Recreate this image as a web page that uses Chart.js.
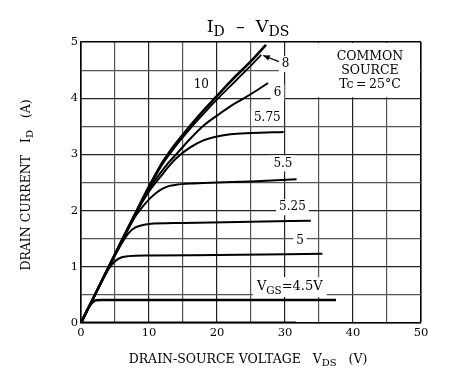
<!DOCTYPE html>
<html>
<head>
<meta charset="utf-8">
<script src="https://cdn.jsdelivr.net/npm/chart.js@4"></script>
<style>
  html, body { margin: 0; padding: 0; background: #fff; }
  #wrap { width: 452px; height: 386px; }
</style>
</head>
<body>
<div id="wrap"><canvas id="chart" width="452" height="386"></canvas></div>
<script>
// curves: VDS (V) and ID (A) per VGS
const v10 = [0, 2, 4, 6, 8, 10, 11, 12, 13, 14, 16, 18, 20, 22, 25, 27.2];
const i10 = [0, 0.49, 0.98, 1.47, 1.95, 2.43, 2.65, 2.86, 3.04, 3.2, 3.5, 3.78, 4.04, 4.3, 4.66, 4.95];
const v8 = [0, 2, 4, 6, 8, 10, 11, 12, 13, 14, 16, 18, 20, 22, 24.5, 26.5];
const i8 = [0, 0.49, 0.98, 1.47, 1.95, 2.42, 2.63, 2.83, 3.0, 3.16, 3.45, 3.72, 3.98, 4.22, 4.52, 4.77];
const v6 = [0, 2, 4, 6, 8, 10, 11, 12, 13, 14, 16, 18, 20, 22, 24, 26, 27.5];
const i6 = [0, 0.49, 0.98, 1.46, 1.94, 2.38, 2.56, 2.72, 2.87, 3.0, 3.27, 3.51, 3.69, 3.86, 4.0, 4.15, 4.27];
const v575 = [0, 2, 4, 6, 8, 10, 11, 12, 13, 14, 16, 18, 20, 22, 25, 29.8];
const i575 = [0, 0.49, 0.98, 1.46, 1.94, 2.34, 2.5, 2.65, 2.8, 2.93, 3.12, 3.25, 3.32, 3.36, 3.38, 3.4];
const v55 = [0, 2, 4, 6, 8, 9, 10, 11, 12, 13, 14, 16, 20, 25, 31.7];
const i55 = [0, 0.49, 0.97, 1.45, 1.9, 2.06, 2.2, 2.31, 2.39, 2.44, 2.46, 2.48, 2.5, 2.52, 2.56];
const v525 = [0, 2, 4, 6, 7, 8, 9, 10, 15, 25, 33.8];
const i525 = [0, 0.49, 0.97, 1.42, 1.6, 1.7, 1.74, 1.76, 1.78, 1.8, 1.82];
const v5 = [0, 2, 4, 5, 6, 7, 10, 20, 35.5];
const i5 = [0, 0.49, 0.95, 1.1, 1.17, 1.19, 1.2, 1.21, 1.23];
const v45 = [0, 1, 1.6, 2.2, 3, 10, 37.5];
const i45 = [0, 0.25, 0.36, 0.405, 0.41, 0.41, 0.41];
const v0 = [0, 31.6];
const i0 = [0, 0];

const xTicks = [0, 10, 20, 30, 40, 50];
const yTicks = [0, 1, 2, 3, 4, 5];

// curve labels (data coordinates)
const curveLabels = [
  { text: '10', x: 17.7, y: 4.24 },
  { text: '8', x: 30.1, y: 4.61 },
  { text: '6', x: 28.9, y: 4.10 },
  { text: '5.75', x: 27.4, y: 3.65 },
  { text: '5.5', x: 29.7, y: 2.84 },
  { text: '5.25', x: 31.1, y: 2.06 },
  { text: '5', x: 32.2, y: 1.47 }
];

const SERIF = '"DejaVu Serif", "Liberation Serif", serif';

function pts(vs, is) {
  return vs.map((v, k) => ({ x: v, y: is[k] }));
}

function curve(vs, is, w) {
  return {
    data: pts(vs, is),
    borderColor: '#000',
    borderWidth: w,
    pointRadius: 0,
    fill: false,
    cubicInterpolationMode: 'monotone'
  };
}

// draw text runs with subscripts, returns width
function runs(ctx, parts, x, y, size, align, measureOnly) {
  let w = 0;
  parts.forEach(p => {
    ctx.font = (p.sub ? size * 0.8 : size) + 'px ' + SERIF;
    w += ctx.measureText(p.t).width;
  });
  if (measureOnly) return w;
  let cx = align === 'center' ? x - w / 2 : x;
  ctx.textAlign = 'left';
  ctx.textBaseline = 'middle';
  parts.forEach(p => {
    ctx.font = (p.sub ? size * 0.8 : size) + 'px ' + SERIF;
    ctx.fillText(p.t, cx, p.sub ? y + size * 0.3 : y);
    cx += ctx.measureText(p.t).width;
  });
  return w;
}

const vgsLabel = [{ t: 'V' }, { t: 'GS', sub: true }, { t: '=4.5V' }];

const decor = {
  id: 'decor',
  beforeDatasetsDraw(chart) {
    const ctx = chart.ctx;
    const xs = chart.scales.x, ys = chart.scales.y;
    ctx.save();
    ctx.fillStyle = '#fff';
    // blank box for the COMMON SOURCE note
    const bx0 = xs.getPixelForValue(30) + 1, bx1 = xs.getPixelForValue(50) - 1;
    const by0 = ys.getPixelForValue(5) + 1, by1 = ys.getPixelForValue(4) - 1;
    ctx.fillRect(bx0, by0, bx1 - bx0, by1 - by0);
    // white patches behind the labels
    ctx.font = '12px ' + SERIF;
    curveLabels.forEach(l => {
      const w = ctx.measureText(l.text).width;
      ctx.fillRect(xs.getPixelForValue(l.x) - w / 2 - 3, ys.getPixelForValue(l.y) - 8, w + 6, 16);
    });
    const w = runs(ctx, vgsLabel, 0, 0, 13, 'center', true);
    ctx.fillStyle = '#fff';
    ctx.fillRect(xs.getPixelForValue(30.7) - w / 2 - 4, ys.getPixelForValue(0.64) - 10, w + 8, 20);
    ctx.restore();
  },
  afterDatasetsDraw(chart) {
    const ctx = chart.ctx;
    const xs = chart.scales.x, ys = chart.scales.y;
    ctx.save();
    ctx.fillStyle = '#000';
    ctx.textAlign = 'center';
    ctx.textBaseline = 'middle';
    ctx.font = '12px ' + SERIF;
    curveLabels.forEach(l => {
      ctx.fillText(l.text, xs.getPixelForValue(l.x), ys.getPixelForValue(l.y));
    });
    runs(ctx, vgsLabel, xs.getPixelForValue(30.7), ys.getPixelForValue(0.64), 13, 'center');

    // arrow to the VGS=8 curve
    const ax0 = xs.getPixelForValue(29.1), ay0 = ys.getPixelForValue(4.65);
    const ax1 = xs.getPixelForValue(26.8), ay1 = ys.getPixelForValue(4.76);
    ctx.strokeStyle = '#000';
    ctx.lineWidth = 1.3;
    ctx.beginPath();
    ctx.moveTo(ax0, ay0);
    ctx.lineTo(ax1, ay1);
    ctx.stroke();
    const ang = Math.atan2(ay1 - ay0, ax1 - ax0);
    ctx.beginPath();
    ctx.moveTo(ax1, ay1);
    ctx.lineTo(ax1 - 7 * Math.cos(ang - 0.4), ay1 - 7 * Math.sin(ang - 0.4));
    ctx.lineTo(ax1 - 7 * Math.cos(ang + 0.4), ay1 - 7 * Math.sin(ang + 0.4));
    ctx.closePath();
    ctx.fill();

    // note
    ctx.font = '12.5px ' + SERIF;
    ctx.textAlign = 'center';
    ctx.textBaseline = 'middle';
    const nx = xs.getPixelForValue(42.5);
    ctx.fillText('COMMON', nx, ys.getPixelForValue(4.74));
    ctx.fillText('SOURCE', nx, ys.getPixelForValue(4.49));
    ctx.fillText('Tc\u2009=\u200925°C', nx, ys.getPixelForValue(4.24));

    // title
    runs(ctx, [{ t: 'I' }, { t: 'D', sub: true }, { t: '  \u2013  V' }, { t: 'DS', sub: true }], 248, 27, 17.5, 'center');

    // x axis title
    runs(ctx, [{ t: 'DRAIN-SOURCE VOLTAGE   V' }, { t: 'DS', sub: true }, { t: '   (V)' }], 248, 360, 12.5, 'center');

    // y axis title
    ctx.translate(27, 185);
    ctx.rotate(-Math.PI / 2);
    runs(ctx, [{ t: 'DRAIN CURRENT   I' }, { t: 'D', sub: true }, { t: '   (A)' }], 0, 0, 12.5, 'center');
    ctx.restore();
  }
};

new Chart(document.getElementById('chart'), {
  type: 'line',
  data: {
    datasets: [
      curve(v10, i10, 2.6),
      curve(v8, i8, 1.8),
      curve(v6, i6, 2),
      curve(v575, i575, 2),
      curve(v55, i55, 2),
      curve(v525, i525, 2),
      curve(v5, i5, 2),
      curve(v45, i45, 2.6),
      curve(v0, i0, 3)
    ]
  },
  options: {
    responsive: false,
    animation: false,
    layout: { padding: { top: 42, right: 31, left: 0, bottom: 0 } },
    plugins: { legend: { display: false }, tooltip: { enabled: false } },
    scales: {
      x: {
        type: 'linear',
        min: 0,
        max: 50,
        afterFit(s) { s.height = 63; },
        ticks: {
          stepSize: 5,
          autoSkip: false,
          maxRotation: 0,
          padding: 3,
          color: '#000',
          font: { family: SERIF, size: 11.5 },
          callback: v => (xTicks.includes(v) ? String(v) : '')
        },
        grid: {
          drawTicks: false,
          color: c => (c.tick && c.tick.value === 50 ? '#000' : (c.tick && c.tick.value % 10 === 0 ? '#222' : '#555')),
          lineWidth: c => (c.tick && c.tick.value === 50 ? 1.6 : 1.2)
        },
        border: { display: true, color: '#000', width: 1.6 }
      },
      y: {
        min: 0,
        max: 5,
        afterFit(s) { s.width = 81; },
        ticks: {
          stepSize: 0.5,
          autoSkip: false,
          padding: 3,
          color: '#000',
          font: { family: SERIF, size: 11.5 },
          callback: v => (yTicks.includes(v) ? String(v) : '')
        },
        grid: {
          drawTicks: false,
          color: c => (c.tick && c.tick.value === 5 ? '#000' : (c.tick && c.tick.value % 1 === 0 ? '#222' : '#555')),
          lineWidth: c => (c.tick && c.tick.value === 5 ? 1.6 : 1.2)
        },
        border: { display: true, color: '#000', width: 1.6 }
      }
    }
  },
  plugins: [decor]
});
</script>
</body>
</html>
